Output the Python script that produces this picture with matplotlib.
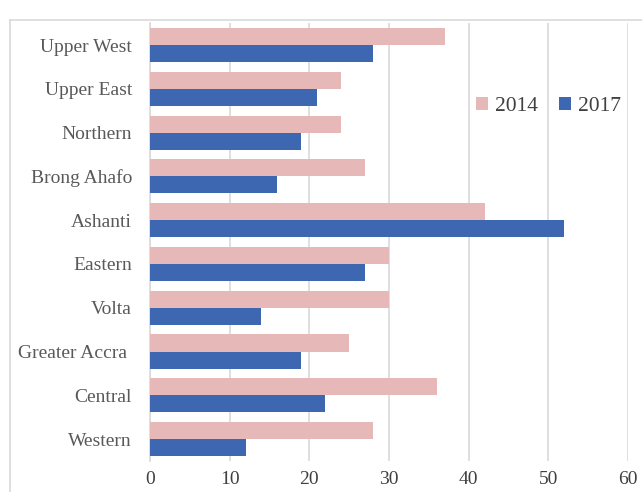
import numpy as np
import matplotlib
matplotlib.use('Agg')
import matplotlib.pyplot as plt
from matplotlib.lines import Line2D

plt.rcParams['font.family'] = ['Liberation Serif', 'DejaVu Serif']

# data, bottom to top as drawn
regions = ['Western', 'Central', 'Greater Accra ', 'Volta', 'Eastern',
           'Ashanti', 'Brong Ahafo', 'Northern', 'Upper East', 'Upper West']
vals_2014 = [28, 36, 25, 30, 30, 42, 27, 24, 24, 37]
vals_2017 = [12, 22, 19, 14, 27, 52, 16, 19, 21, 28]
xticks = [0, 10, 20, 30, 40, 50, 60]

c2014 = '#E6B8B7'
c2017 = '#3D67B0'

fig = plt.figure(figsize=(6.42, 4.92), dpi=100)
ax = fig.add_axes([0.2336, 0.063, 0.7445, 0.89])

y = np.arange(len(regions))
h = 0.39
ax.barh(y + h / 2, vals_2014, height=h, color=c2014, label='2014', zorder=3)
ax.barh(y - h / 2, vals_2017, height=h, color=c2017, label='2017', zorder=3)

ax.set_xlim(0, 60)
ax.set_ylim(-0.5, len(regions) - 0.5)
ax.set_xticks(xticks)
ax.set_yticks(y)
ax.set_yticklabels(regions)
ax.grid(axis='x', color='#D9D9D9', linewidth=1.2, zorder=0)
for s in ['top', 'right', 'bottom']:
    ax.spines[s].set_visible(False)
ax.spines['left'].set_color('#D9D9D9')
ax.spines['left'].set_linewidth(1.2)
ax.tick_params(axis='both', length=0, labelsize=14, colors='#595959')
ax.tick_params(axis='x', pad=7, labelcolor='#404040')
ax.tick_params(axis='y', pad=13)

leg = ax.legend(loc='upper right', bbox_to_anchor=(1.025, 0.875), ncol=2,
                frameon=False, fontsize=15.5, handlelength=0.55, handleheight=0.55,
                columnspacing=1.0, handletextpad=0.3)
for t in leg.get_texts():
    t.set_color('#404040')

# outer chart border (left and top edges visible)
fig.add_artist(Line2D([10 / 642, 10 / 642], [0, 1 - 20 / 492],
                      color='#D9D9D9', linewidth=1.2))
fig.add_artist(Line2D([10 / 642, 1], [1 - 20 / 492, 1 - 20 / 492],
                      color='#D9D9D9', linewidth=1.2))

fig.savefig('out.png', dpi=100)
